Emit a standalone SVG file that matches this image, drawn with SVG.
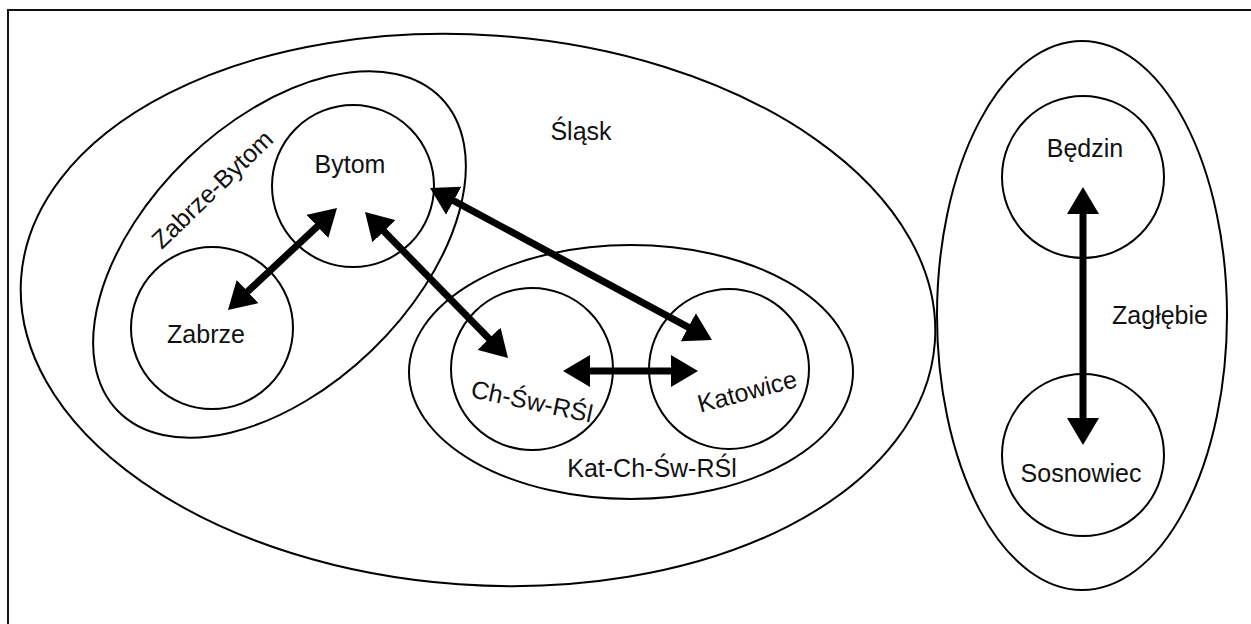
<svg xmlns="http://www.w3.org/2000/svg" width="1251" height="624" viewBox="0 0 1251 624">
<defs>
<style>
.shape{fill:none;stroke:#000;stroke-width:2}
.lbl{font-family:"Liberation Sans",Arial,sans-serif;font-size:25px;fill:#111;text-anchor:middle}
.conn{fill:none;stroke:#000;stroke-width:7;marker-start:url(#ah);marker-end:url(#ah)}
</style>
<marker id="ah" viewBox="0 0 27 32" refX="13" refY="16" markerWidth="27" markerHeight="32" markerUnits="userSpaceOnUse" orient="auto-start-reverse">
<path d="M0,0 L27,16 L0,32 z" fill="#000"/>
</marker>
</defs>
<rect x="0" y="0" width="1251" height="624" fill="#fff"/>
<rect x="8" y="10" width="1250" height="620" fill="none" stroke="#111" stroke-width="2"/>

<g id="slask">
<ellipse class="shape" cx="478" cy="310" rx="458" ry="275" transform="rotate(4 478 310)"/>
<text class="lbl" x="581" y="140">Śląsk</text>
</g>
<g id="zabrze-bytom">
<ellipse class="shape" cx="279.5" cy="254.5" rx="225" ry="133" transform="rotate(-44 279.5 254.5)"/>
<text class="lbl" transform="translate(212 189) rotate(-44)" x="0" y="9">Zabrze-Bytom</text>
</g>
<g id="kat-ch-sw-rsl">
<ellipse class="shape" cx="631" cy="372" rx="222" ry="127"/>
<text class="lbl" x="652" y="477">Kat-Ch-Św-RŚl</text>
</g>
<g id="zaglebie">
<ellipse class="shape" cx="1082" cy="315.5" rx="145" ry="274.5"/>
<text class="lbl" x="1160" y="324">Zagłębie</text>
</g>
<g id="bytom">
<circle class="shape" cx="353" cy="186" r="81"/>
<text class="lbl" x="350" y="173">Bytom</text>
</g>
<g id="zabrze">
<circle class="shape" cx="212" cy="328" r="81"/>
<text class="lbl" x="206" y="343">Zabrze</text>
</g>
<g id="ch-sw-rsl">
<circle class="shape" cx="532" cy="369" r="81"/>
<text class="lbl" transform="translate(532 401) rotate(12)" x="0" y="9">Ch-Św-RŚl</text>
</g>
<g id="katowice">
<circle class="shape" cx="729" cy="369" r="80"/>
<text class="lbl" transform="translate(747 391) rotate(-15)" x="0" y="9">Katowice</text>
</g>
<g id="bedzin">
<circle class="shape" cx="1083" cy="177" r="81"/>
<text class="lbl" x="1085" y="157">Będzin</text>
</g>
<g id="sosnowiec">
<circle class="shape" cx="1083" cy="455" r="81"/>
<text class="lbl" x="1081" y="482">Sosnowiec</text>
</g>

<g id="connectors">
<line class="conn" x1="238.2" y1="300.4" x2="326.8" y2="217.6"/>
<line class="conn" x1="374.8" y1="222" x2="498.2" y2="348"/>
<line class="conn" x1="442.3" y1="194.6" x2="699.7" y2="333.4"/>
<line class="conn" x1="577" y1="371" x2="684" y2="371"/>
<line class="conn" x1="1083" y1="201" x2="1083" y2="431"/>
</g>
</svg>
